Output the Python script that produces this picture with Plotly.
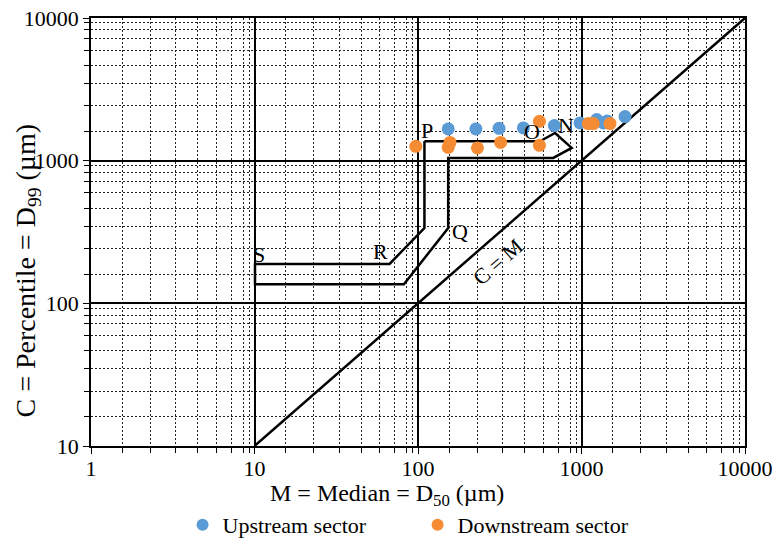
import math
import plotly.graph_objects as go

# ---- data ----
up_x = [153, 226, 313, 441, 682, 979, 1239, 1360, 1437, 1846]
up_y = [1668, 1668, 1686, 1696, 1762, 1840, 1940, 1840, 1900, 2037]

down_x = [97, 153, 157, 231, 320, 553, 553, 1101, 1181, 1494]
down_y = [1260, 1240, 1343, 1228, 1343, 1888, 1280, 1820, 1820, 1820]

poly_x = [109.5, 557, 689, 871, 672, 153, 153, 82, 10.07, 10.07, 67, 109.5, 109.5]
poly_y = [1366, 1366, 1564, 1228, 1045, 1045, 337, 136, 136, 189, 189, 337, 1366]

cm_x = [10, 10000]
cm_y = [10, 10000]

seg_labels = ["P", "O", "N", "Q", "R", "S"]
seg_x = [113.5, 496, 800, 180.6, 59.1, 10.65]
seg_y = [1624, 1606, 1761, 319, 231, 219]

cm_label = "C = M"
cm_label_x = 310
cm_label_y = 196

major_ticks = [1, 10, 100, 1000, 10000]
x_tick_text = ["1", "10", "100", "1000", "10000"]
y_major = [10, 100, 1000, 10000]
y_tick_text = ["10", "100", "1000", "10000"]

x_title = "M = Median = D<sub>50</sub> (µm)"
y_title = "C = Percentile = D<sub>99</sub> (µm)"

# minor grid positions of the printed template (fraction of a decade)
x_minor_frac = [0.192, 0.363, 0.518, 0.652, 0.766, 0.858, 0.932, 0.969]
y_minor_frac = [0.205, 0.385, 0.540, 0.668, 0.774, 0.856, 0.918, 0.965]

x_minor = [10 ** (d + f) for d in range(0, 4) for f in x_minor_frac]
y_minor = [10 ** (d + f) for d in range(1, 4) for f in y_minor_frac]

SERIF = "Liberation Serif"
BLUE = "#5B9BD5"
ORANGE = "#F58B32"

fig = go.Figure()

fig.add_trace(go.Scatter(x=poly_x, y=poly_y, mode="lines",
                         line=dict(color="black", width=2.5),
                         showlegend=False, hoverinfo="skip"))
fig.add_trace(go.Scatter(x=cm_x, y=cm_y, mode="lines",
                         line=dict(color="black", width=2.5),
                         showlegend=False, hoverinfo="skip"))

fig.add_trace(go.Scatter(x=up_x, y=up_y, mode="markers", name="Upstream sector",
                         marker=dict(color=BLUE, size=13, symbol="circle")))
fig.add_trace(go.Scatter(x=down_x, y=down_y, mode="markers", name="Downstream sector",
                         marker=dict(color=ORANGE, size=13, symbol="circle")))

# annotations on log axes are positioned in log10 units
for t, x, y in zip(seg_labels, seg_x, seg_y):
    fig.add_annotation(x=math.log10(x), y=math.log10(y), xref="x", yref="y",
                       text=t, showarrow=False,
                       font=dict(family=SERIF, size=22, color="black"))

fig.add_annotation(x=math.log10(cm_label_x), y=math.log10(cm_label_y), xref="x", yref="y",
                   text=cm_label, showarrow=False, textangle=-41,
                   font=dict(family=SERIF, size=22, color="black"))

# axis titles (placed as in the reference, slightly off-centre)
fig.add_annotation(x=0.4526, y=-0.114, xref="paper", yref="paper",
                   xanchor="center", yanchor="middle", text=x_title, showarrow=False,
                   font=dict(family=SERIF, size=24, color="black"))
fig.add_annotation(x=-0.0963, y=0.41, xref="paper", yref="paper",
                   xanchor="center", yanchor="middle", text=y_title, showarrow=False,
                   textangle=-90, font=dict(family=SERIF, size=28, color="black"))

axis_common = dict(
    type="log",
    automargin=False,
    showline=True, linecolor="black", linewidth=1.5, mirror=True,
    showgrid=True, gridcolor="black", gridwidth=1.5,
    ticks="outside", ticklen=6, tickcolor="black", tickwidth=1,
    tickfont=dict(family=SERIF, size=22, color="black"),
    ticklabeloverflow="allow",
    zeroline=False,
)

minor_common = dict(tickmode="array", showgrid=True,
                    gridcolor="#222222", gridwidth=1, griddash="2px,2px",
                    ticks="outside", ticklen=5, tickcolor="black", tickwidth=1)

fig.update_xaxes(
    **axis_common,
    range=[0, 4],
    tickmode="array", tickvals=major_ticks, ticktext=x_tick_text,
    ticklabelstandoff=-4,
    minor=dict(tickvals=x_minor, **minor_common),
)
fig.update_yaxes(
    **axis_common,
    range=[1, 4],
    tickmode="array", tickvals=y_major, ticktext=y_tick_text,
    minor=dict(tickvals=y_minor, **minor_common),
)

fig.update_layout(
    width=772, height=540,
    margin=dict(l=91, r=27, t=18, b=94),
    paper_bgcolor="white", plot_bgcolor="white",
    showlegend=True,
    legend=dict(orientation="h", xref="paper", x=0.14, xanchor="left",
                yref="container", y=0.028, yanchor="middle",
                entrywidth=190, entrywidthmode="pixels",
                font=dict(family=SERIF, size=22, color="black"),
                itemsizing="constant", bgcolor="rgba(0,0,0,0)", tracegroupgap=0),
)

fig.write_html("out.html",
               config={"displayModeBar": False},
               post_script="document.body.style.margin='0';document.body.style.overflow='hidden';")
